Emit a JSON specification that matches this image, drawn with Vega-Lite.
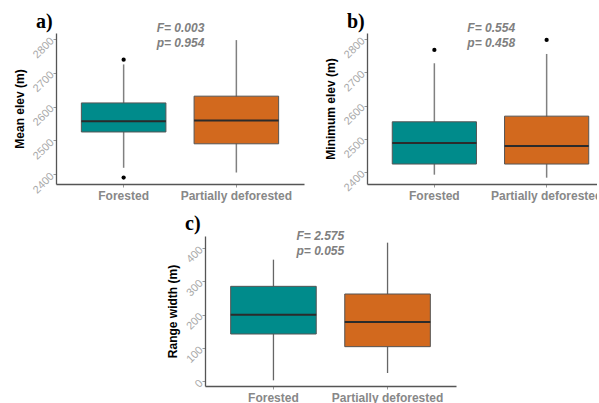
{
  "$schema": "https://vega.github.io/schema/vega-lite/v6.json",
  "background": "white",
  "padding": {"left": 13, "top": 12, "right": -17, "bottom": 0},
  "datasets": {
    "stats": [
      {"panel": "a", "group": "Forested", "lower": 2419, "q1": 2525, "median": 2557, "q3": 2611, "upper": 2725},
      {"panel": "a", "group": "Partially deforested", "lower": 2405, "q1": 2490, "median": 2559, "q3": 2631, "upper": 2797},
      {"panel": "b", "group": "Forested", "lower": 2392, "q1": 2424, "median": 2487, "q3": 2551, "upper": 2727},
      {"panel": "b", "group": "Partially deforested", "lower": 2383, "q1": 2424, "median": 2478, "q3": 2568, "upper": 2755},
      {"panel": "c", "group": "Forested", "lower": 3, "q1": 142, "median": 200, "q3": 285, "upper": 365},
      {"panel": "c", "group": "Partially deforested", "lower": 25, "q1": 104, "median": 178, "q3": 262, "upper": 416}
    ],
    "outliers": [
      {"panel": "a", "group": "Forested", "value": 2739},
      {"panel": "a", "group": "Forested", "value": 2390},
      {"panel": "b", "group": "Forested", "value": 2767},
      {"panel": "b", "group": "Partially deforested", "value": 2797}
    ],
    "annot": [
      {"panel": "a", "group": "Forested", "label": ["F= 0.003", "p= 0.954"]},
      {"panel": "b", "group": "Forested", "label": ["F= 0.554", "p= 0.458"]},
      {"panel": "c", "group": "Forested", "label": ["F= 2.575", "p= 0.055"]}
    ]
  },
  "config": {
    "view": {"stroke": null},
    "font": "Liberation Sans",
    "axisY": {"labelAngle": -45, "labelAlign": "right", "labelBaseline": "middle", "labelColor": "#a8a8a8", "labelFontSize": 11, "labelPadding": 1, "labelOverlap": false, "format": "d", "titleColor": "#000000", "titleFontSize": 12, "titleFontWeight": "bold", "titlePadding": 4, "domainColor": "#555555", "domainWidth": 1.3, "tickColor": "#999999", "tickSize": 3, "grid": false},
    "axisX": {"labelAngle": 0, "labelColor": "#888888", "labelFontSize": 12, "labelFontWeight": "bold", "labelPadding": 3, "domainColor": "#555555", "domainWidth": 1.3, "tickColor": "#999999", "tickSize": 3, "grid": false},
    "title": {"anchor": "start", "frame": "group", "font": "Liberation Serif", "fontSize": 20, "fontWeight": "bold", "color": "#000000", "baseline": "alphabetic", "offset": -10}
  },
  "spacing": 13,
  "vconcat": [
    {
      "spacing": 20,
      "hconcat": [
        {
          "width": 248, "height": 151,
          "title": {"text": "a)", "dx": -20},
          "encoding": {"x": {"field": "group", "type": "nominal", "title": null, "scale": {"domain": ["Forested", "Partially deforested"], "paddingInner": 0.25, "paddingOuter": 0.225}}},
          "layer": [
            {"data": {"name": "stats"}, "transform": [{"filter": "datum.panel === 'a'"}], "mark": {"type": "rule", "color": "#808080", "strokeWidth": 1.5},
             "encoding": {"y": {"field": "lower", "type": "quantitative", "title": "Mean elev (m)", "scale": {"domain": [2371, 2818], "nice": false, "zero": false}, "axis": {"values": [2400, 2500, 2600, 2700, 2800]}}, "y2": {"field": "upper"}}},
            {"data": {"name": "stats"}, "transform": [{"filter": "datum.panel === 'a'"}], "mark": {"type": "bar", "stroke": "#555555", "strokeWidth": 1},
             "encoding": {"y": {"field": "q1", "type": "quantitative", "title": "Mean elev (m)", "axis": {"values": [2400, 2500, 2600, 2700, 2800]}}, "y2": {"field": "q3"}, "fill": {"field": "group", "type": "nominal", "scale": {"domain": ["Forested", "Partially deforested"], "range": ["#008B8B", "#D2691E"]}, "legend": null}}},
            {"data": {"name": "stats"}, "transform": [{"filter": "datum.panel === 'a'"}], "mark": {"type": "bar", "stroke": "#2b2b2b", "strokeWidth": 2, "fill": null},
             "encoding": {"y": {"field": "median", "type": "quantitative", "title": "Mean elev (m)", "axis": {"values": [2400, 2500, 2600, 2700, 2800]}}, "y2": {"field": "median"}}},
            {"data": {"name": "outliers"}, "transform": [{"filter": "datum.panel === 'a'"}], "mark": {"type": "point", "filled": true, "color": "#000000", "opacity": 1, "size": 18},
             "encoding": {"y": {"field": "value", "type": "quantitative", "title": "Mean elev (m)", "axis": {"values": [2400, 2500, 2600, 2700, 2800]}}}},
            {"data": {"name": "annot"}, "transform": [{"filter": "datum.panel === 'a'"}], "mark": {"type": "text", "align": "left", "baseline": "top", "dx": 33, "dy": -10, "fontSize": 12, "fontWeight": "bold", "fontStyle": "italic", "color": "#808080", "lineHeight": 15},
             "encoding": {"y": {"datum": 2818, "type": "quantitative", "title": "Mean elev (m)", "axis": {"values": [2400, 2500, 2600, 2700, 2800]}}, "text": {"field": "label"}}}
          ]
        },
        {
          "width": 247, "height": 151,
          "title": {"text": "b)", "dx": -20},
          "encoding": {"x": {"field": "group", "type": "nominal", "title": null, "scale": {"domain": ["Forested", "Partially deforested"], "paddingInner": 0.25, "paddingOuter": 0.225}}},
          "layer": [
            {"data": {"name": "stats"}, "transform": [{"filter": "datum.panel === 'b'"}], "mark": {"type": "rule", "color": "#808080", "strokeWidth": 1.5},
             "encoding": {"y": {"field": "lower", "type": "quantitative", "title": "Minimum elev (m)", "scale": {"domain": [2364, 2818], "nice": false, "zero": false}, "axis": {"values": [2400, 2500, 2600, 2700, 2800]}}, "y2": {"field": "upper"}}},
            {"data": {"name": "stats"}, "transform": [{"filter": "datum.panel === 'b'"}], "mark": {"type": "bar", "stroke": "#555555", "strokeWidth": 1},
             "encoding": {"y": {"field": "q1", "type": "quantitative", "title": "Minimum elev (m)", "axis": {"values": [2400, 2500, 2600, 2700, 2800]}}, "y2": {"field": "q3"}, "fill": {"field": "group", "type": "nominal", "scale": {"domain": ["Forested", "Partially deforested"], "range": ["#008B8B", "#D2691E"]}, "legend": null}}},
            {"data": {"name": "stats"}, "transform": [{"filter": "datum.panel === 'b'"}], "mark": {"type": "bar", "stroke": "#2b2b2b", "strokeWidth": 2, "fill": null},
             "encoding": {"y": {"field": "median", "type": "quantitative", "title": "Minimum elev (m)", "axis": {"values": [2400, 2500, 2600, 2700, 2800]}}, "y2": {"field": "median"}}},
            {"data": {"name": "outliers"}, "transform": [{"filter": "datum.panel === 'b'"}], "mark": {"type": "point", "filled": true, "color": "#000000", "opacity": 1, "size": 18},
             "encoding": {"y": {"field": "value", "type": "quantitative", "title": "Minimum elev (m)", "axis": {"values": [2400, 2500, 2600, 2700, 2800]}}}},
            {"data": {"name": "annot"}, "transform": [{"filter": "datum.panel === 'b'"}], "mark": {"type": "text", "align": "left", "baseline": "top", "dx": 33, "dy": -10, "fontSize": 12, "fontWeight": "bold", "fontStyle": "italic", "color": "#808080", "lineHeight": 15},
             "encoding": {"y": {"datum": 2818, "type": "quantitative", "title": "Minimum elev (m)", "axis": {"values": [2400, 2500, 2600, 2700, 2800]}}, "text": {"field": "label"}}}
          ]
        }
      ]
    },
    {
      "spacing": 0,
      "hconcat": [
        {"width": 110, "height": 10, "data": {"values": [{}]}, "mark": {"type": "point", "opacity": 0}},
        {
          "width": 251, "height": 150,
          "title": {"text": "c)", "dx": -20, "offset": -4},
          "encoding": {"x": {"field": "group", "type": "nominal", "title": null, "scale": {"domain": ["Forested", "Partially deforested"], "paddingInner": 0.25, "paddingOuter": 0.225}}},
          "layer": [
            {"data": {"name": "stats"}, "transform": [{"filter": "datum.panel === 'c'"}], "mark": {"type": "rule", "color": "#666666", "strokeWidth": 1.3},
             "encoding": {"y": {"field": "lower", "type": "quantitative", "title": "Range width (m)", "scale": {"domain": [-14, 436], "nice": false, "zero": false}, "axis": {"values": [0, 100, 200, 300, 400]}}, "y2": {"field": "upper"}}},
            {"data": {"name": "stats"}, "transform": [{"filter": "datum.panel === 'c'"}], "mark": {"type": "bar", "stroke": "#555555", "strokeWidth": 1},
             "encoding": {"y": {"field": "q1", "type": "quantitative", "title": "Range width (m)", "axis": {"values": [0, 100, 200, 300, 400]}}, "y2": {"field": "q3"}, "fill": {"field": "group", "type": "nominal", "scale": {"domain": ["Forested", "Partially deforested"], "range": ["#008B8B", "#D2691E"]}, "legend": null}}},
            {"data": {"name": "stats"}, "transform": [{"filter": "datum.panel === 'c'"}], "mark": {"type": "bar", "stroke": "#2b2b2b", "strokeWidth": 2, "fill": null},
             "encoding": {"y": {"field": "median", "type": "quantitative", "title": "Range width (m)", "axis": {"values": [0, 100, 200, 300, 400]}}, "y2": {"field": "median"}}},
            {"data": {"name": "annot"}, "transform": [{"filter": "datum.panel === 'c'"}], "mark": {"type": "text", "align": "left", "baseline": "top", "dx": 23, "dy": -5, "fontSize": 12, "fontWeight": "bold", "fontStyle": "italic", "color": "#808080", "lineHeight": 15},
             "encoding": {"y": {"datum": 436, "type": "quantitative", "title": "Range width (m)", "axis": {"values": [0, 100, 200, 300, 400]}}, "text": {"field": "label"}}}
          ]
        }
      ]
    }
  ]
}
